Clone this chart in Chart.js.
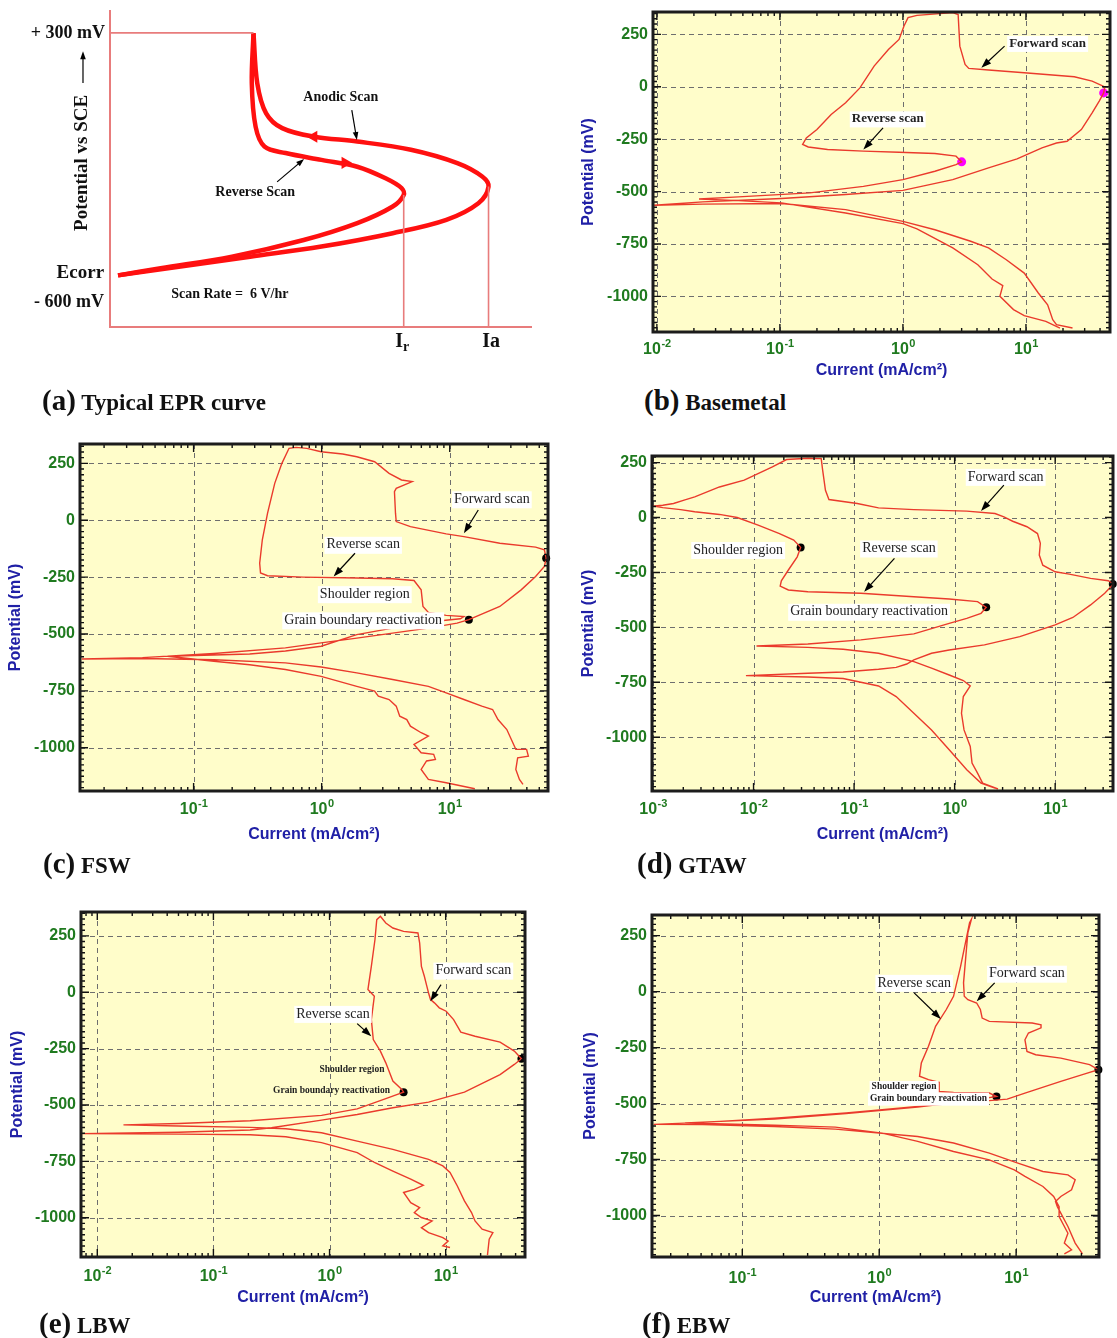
<!DOCTYPE html>
<html>
<head>
<meta charset="utf-8">
<title>EPR curves</title>
<script src="https://cdn.jsdelivr.net/npm/chart.js"></script>
<style>
  body { margin: 0; background: #fff; }
  #page { position: relative; width: 1117px; height: 1338px; overflow: hidden; background: #fff; }
  canvas { position: absolute; }
  .cap { position: absolute; font-family: 'Liberation Serif', 'Times New Roman', serif; font-weight: bold;
         font-size: 23px; line-height: 34px; color: #111; white-space: nowrap; }
  .cap span { font-size: 29px; }
</style>
</head>
<body>
<div id="page">
  <canvas id="chartA" width="560" height="420" style="left:0;top:0"></canvas>
  <canvas id="chartB" width="540" height="383" style="left:577px;top:0"></canvas>
  <canvas id="chartC" width="556" height="417" style="left:4px;top:430px"></canvas>
  <canvas id="chartD" width="540" height="407" style="left:577px;top:440px"></canvas>
  <canvas id="chartE" width="554" height="410" style="left:6px;top:900px"></canvas>
  <canvas id="chartF" width="538" height="410" style="left:579px;top:900px"></canvas>

  <div class="cap" style="left:42px;top:383px"><span>(a)</span> Typical EPR curve</div>
  <div class="cap" style="left:644px;top:383px"><span>(b)</span> Basemetal</div>
  <div class="cap" style="left:43px;top:846px"><span>(c)</span> FSW</div>
  <div class="cap" style="left:637px;top:846px"><span>(d)</span> GTAW</div>
  <div class="cap" style="left:39px;top:1306px"><span>(e)</span> LBW</div>
  <div class="cap" style="left:642px;top:1306px"><span>(f)</span> EBW</div>
</div>

<script>
'use strict'

// ---------------------------------------------------------------
// (a) typical EPR curve - schematic, current in arbitrary units (0-100), potential in mV
const anodicCurrent = [34.0, 34.9, 37.0, 40.8, 48.4, 58.6, 71.3, 82.3, 88.2, 89.7, 87.3, 79.7, 67.0, 50.1, 33.2, 16.3, 1.9];
const anodicPotential = [299, 130, 29, -21, -50, -66, -94, -139, -184, -218, -274, -330, -375, -420, -454, -488, -517];
const reverseCurrent = [34.0, 33.6, 34.5, 36.6, 41.6, 50.1, 58.6, 65.3, 69.1, 69.6, 67.0, 58.6, 45.9, 28.9, 12.0, 1.9];
const reversePotential = [299, 130, -16, -83, -105, -128, -151, -190, -223, -246, -285, -341, -398, -454, -493, -517];
const peakCurrent = [69.6, 89.7];      // Ir, Ia
const peakPotential = [-246, -218];
const markCurrent = [48.3, 55.7];      // direction marks on anodic / reverse scan
const markPotential = [-50, -138];
const limitPotential = 300;            // + 300 mV vertex

// ---------------------------------------------------------------
// (b)-(f) measured loops, current in mA/cm2, potential in mV
const potentialTicks = [-1000, -750, -500, -250, 0, 250];

// (b) base metal
const bmCurrent = [
  23.9, 17.7, 16.5, 15.0, 12.6, 9.68, 6.92, 4.96, 3.55, 1.82, 1.0, 0.342, 0.103, 0.0236, 0.0095,
  0.0236, 0.103, 0.342, 1.0, 2.54, 4.96, 8.47, 13.5, 17.7, 21.6, 28.2, 34.5, 39.4, 42.8, 43.7, 34.5, 24.7, 9.68, 4.96, 3.43, 3.2, 2.9, 2.81, 2.54,
  1.3, 1.10, 1.02, 0.93, 0.762, 0.583, 0.447, 0.342, 0.261, 0.2, 0.164, 0.153, 0.17, 0.244, 0.477, 0.93, 1.82, 2.7, 3.0, 2.7, 1.82, 1.0, 0.477, 0.175, 0.046, 0.022,
  0.046, 0.103, 0.342, 1.0, 1.3, 2.54, 4.06, 5.3, 6.48, 6.14, 7.92, 9.68, 14.5, 18.9];
const bmPotential = [
  -1151, -1135, -1111, -1040, -984, -889, -825, -769, -737, -682, -642, -586, -557, -560, -565,
  -549, -533, -514, -494, -443, -387, -344, -291, -268, -260, -204, -124, -68, -29, 0, 27, 48, 67, 80, 88, 107, 194, 345, 354,
  341, 330, 290, 226, 178, 99, -5, -76, -132, -204, -244, -275, -287, -299, -307, -312, -318, -331, -358, -371, -403, -443, -475, -506, -525, -535,
  -543, -554, -602, -653, -678, -769, -849, -917, -949, -1000, -1063, -1092, -1119, -1151];
const bmDotCurrent = [3.0, 42.8];
const bmDotPotential = [-358, -29];

// (c) FSW
const fswCurrent = [
  37.3, 35.0, 32.8, 33.9, 41.1, 39.8, 32.8, 27.9, 23.8, 21.6, 17.8, 12.9, 9.38, 6.81, 3.58, 1.88, 0.99, 0.521, 0.144, 0.0399, 0.0134,
  0.0399, 0.144, 0.521, 0.99, 1.88, 3.58, 6.81, 11.4, 14.1, 24.6, 36.1, 46.8, 54.8, 56.6, 54.8, 46.8, 24.6, 12.9, 9.38, 4.93, 3.82, 3.77, 3.70, 3.82, 5.09, 4.2, 3.36, 2.59, 1.88, 1.46, 0.99, 0.766, 0.632, 0.556,
  0.489, 0.430, 0.378, 0.344, 0.328, 0.333, 0.378, 0.718, 1.88, 3.58, 5.26, 5.98, 6.18, 6.81, 9.38, 12.9, 12.1, 6.81, 3.58, 1.88, 0.99, 0.521, 0.274, 0.0625,
  0.144, 0.274, 0.521, 0.99, 1.88, 2.59, 2.77, 3.36, 3.82, 4.07, 4.62, 4.93, 5.98, 6.81, 5.26, 5.98, 7.49, 7.73, 6.59, 5.98, 6.81, 9.38, 15.7];
const fswPotential = [
  -1161, -1139, -1095, -1044, -1037, -1007, -1007, -920, -876, -832, -817, -788, -759, -730, -700, -671, -645, -627, -613, -608, -610,
  -604, -586, -561, -539, -518, -496, -474, -452, -437, -379, -306, -247, -203, -167, -130, -118, -101, -72, -60, -28, -6, 31, 126, 140, 170, 177, 206, 257, 279, 291, 301, 316, 320, 316,
  250, 162, 31, -86, -189, -232, -244, -250, -254, -257, -265, -306, -379, -405, -418, -423, -433, -447, -474, -503, -554, -575, -588, -598,
  -620, -635, -656, -686, -730, -751, -773, -788, -817, -861, -876, -905, -934, -949, -985, -1022, -1029, -1051, -1058, -1095, -1139, -1154, -1180];
const fswDotCurrent = [14.1, 56.6];
const fswDotPotential = [-437, -167];

// (d) GTAW
const gtawCurrent = [
  2.52, 1.83, 1.32, 0.883, 0.589, 0.393, 0.262, 0.175, 0.0778, 0.0347, 0.0084,
  0.0347, 0.0778, 0.175, 0.262, 0.334, 0.393, 0.589, 0.883, 1.98, 4.45, 10.0, 15.0, 22.5, 31.1, 38.0, 33.7, 22.5, 13.8, 10.0, 7.53, 6.95, 7.12, 6.67, 5.24, 3.78, 3.09, 2.52, 1.32, 0.393, 0.175, 0.1076, 0.0562, 0.0519, 0.0487, 0.0471, 0.0347, 0.0213,
  0.0154, 0.00807, 0.00458, 0.0026, 0.00204, 0.0016, 0.00125, 0.00103, 0.00125, 0.00188, 0.0026, 0.00458, 0.00687, 0.0111, 0.0181, 0.0251, 0.0294, 0.0272, 0.0222, 0.0189, 0.0184, 0.0222, 0.0347, 0.1167, 0.393, 0.883, 1.69, 2.06, 1.83, 1.32, 0.883, 0.393, 0.1167, 0.0347, 0.0107,
  0.0347, 0.0778, 0.175, 0.393, 0.589, 0.883, 1.22, 1.43, 1.22, 1.17, 1.24, 1.43, 1.49, 1.69, 1.90, 2.70];
const gtawPotential = [
  -1232, -1209, -1148, -1057, -967, -891, -815, -767, -733, -726, -720,
  -709, -703, -691, -682, -667, -648, -618, -603, -580, -542, -489, -455, -398, -345, -303, -288, -277, -258, -247, -217, -171, -118, -73, -42, -17, 3, 18, 29, 36, 44, 64, 82, 124, 215, 268, 270, 264,
  230, 170, 139, 94, 79, 64, 56, 52, 45, 36, 26, 14, 0, -35, -73, -103, -136, -179, -239, -288, -312, -330, -338, -345, -361, -371, -383, -409, -436, -459, -482, -530, -557, -576, -585,
  -591, -600, -618, -656, -686, -717, -742, -767, -815, -891, -967, -1042, -1118, -1164, -1209, -1236];
const gtawDotCurrent = [0.0294, 2.06, 37.4];
const gtawDotPotential = [-136, -409, -303];

// (e) LBW
const lbwCurrent = [
  10.9, 9.45, 10.5, 9.45, 7.12, 6.18, 7.64, 6.18, 5.37, 5.97, 5.0, 4.34, 5.37, 6.41, 5.0, 3.51, 2.46, 1.73, 0.853, 0.42, 0.207, 0.0502, 0.00717,
  0.0502, 0.207, 0.316, 0.853, 1.73, 3.51, 7.12, 14.5, 29.4, 39.0, 44.9, 39.0, 29.4, 17.9, 13.5, 11.7, 10.1, 8.81, 8.0, 7.4, 7.12, 6.88, 6.55, 6.18, 5.97, 5.77, 4.34, 3.51, 3.05, 2.74,
  2.55, 2.46, 2.29, 2.14, 2.43, 2.29, 2.38, 2.74, 3.05, 3.51, 4.19, 4.34, 3.05, 1.73, 0.853, 0.207, 0.0502, 0.0168,
  0.0502, 0.207, 0.42, 0.853, 1.73, 3.51, 7.12, 9.45, 10.9, 12.6, 14.5, 16.7, 17.9, 20.6, 25.5, 23.7, 22.9];
const lbwPotential = [
  -1132, -1125, -1103, -1088, -1066, -1044, -1014, -999, -977, -955, -933, -888, -874, -856, -829, -793, -756, -711, -667, -641, -632, -629, -627,
  -621, -611, -601, -567, -542, -512, -487, -443, -365, -320, -295, -261, -221, -195, -177, -121, -84, -69, -47, -32, -3, 27, 71, 115, 218, 263, 270, 285, 307, 337,
  322, 233, 115, 12, -18, -121, -210, -261, -313, -394, -431, -443, -472, -517, -546, -570, -582, -588,
  -593, -599, -605, -623, -660, -697, -741, -770, -799, -859, -925, -977, -1014, -1051, -1066, -1095, -1166];
const lbwDotCurrent = [4.34, 44.9];
const lbwDotPotential = [-443, -295];

// (f) EBW
const ebwCurrent = [
  30.5, 27.0, 23.9, 20.0, 19.4, 21.2, 25.4, 27.0, 23.9, 15.7, 10.3, 6.37, 3.49, 1.91, 0.478, 0.172, 0.0516, 0.0225,
  0.0516, 0.172, 0.573, 1.05, 1.91, 3.49, 6.37, 8.6, 11.6, 21.2, 30.5, 39.9, 34.4, 21.2, 13.9, 12.0, 11.6, 12.3, 15.2, 15.2, 13.1, 6.37, 5.65, 5.48, 5.15, 4.44, 4.18, 4.13, 4.44, 4.71,
  4.57, 3.93, 3.49, 3.09, 2.58, 2.29, 2.03, 1.97, 2.29, 2.74, 2.74, 3.49, 6.37, 7.18, 4.71, 1.91, 0.573, 0.172, 0.0516, 0.0382,
  0.172, 0.478, 1.05, 1.91, 3.49, 6.37, 9.7, 11.6, 15.7, 18.8, 20.6, 20.6, 23.9, 22.5, 25.4, 22.5];
const ebwPotential = [
  -1171, -1123, -1049, -960, -937, -915, -885, -840, -818, -803, -766, -721, -676, -647, -614, -602, -594, -593,
  -584, -565, -542, -527, -513, -499, -487, -480, -453, -401, -371, -349, -326, -297, -282, -267, -215, -185, -162, -148, -140, -133, -118, -80, -51, -36, -21, 39, 262, 322,
  307, 113, -21, -80, -155, -244, -319, -378, -393, -405, -446, -450, -453, -468, -487, -516, -545, -569, -583, -587,
  -596, -605, -632, -669, -714, -751, -796, -825, -870, -915, -960, -1004, -1079, -1123, -1153, -1171];
const ebwDotCurrent = [7.18, 39.9];
const ebwDotPotential = [-468, -349];

// ---------------------------------------------------------------
const SANS = "'Liberation Sans', Arial, sans-serif";
const SERIF = "'Liberation Serif', 'Times New Roman', serif";
const PLOT_BG = '#fffdca';
const GRID_GREY = '#6e6e6e';
const TICK_GREEN = '#1f7a1f';
const TITLE_BLUE = '#2020a6';
const CURVE_RED = '#ea3a2c';
const SCHEME_RED = '#ff1010';
const AXIS_PINK = '#e87c7c';

const NOTE = '14px ' + SERIF;
const SMALL = 'bold 9.5px ' + SERIF;

// layout + labels of the five measured panels (data arrays above)
const panels = {
  chartB: { current: bmCurrent, potential: bmPotential, dotI: bmDotCurrent, dotE: bmDotPotential, dotColor: '#ff00ff', dotR: 4.5,
    xMin: 0.0093, xMax: 48.2, yMin: -1170, yMax: 357, padTop: 12, padRight: 7, yW: 76, xH: 51, tickGap: 22,
    notes: [
      { text: 'Forward scan', x: 15.0, y: 207, font: 'bold 13px ' + SERIF, h: 13 },
      { text: 'Reverse scan', x: 0.752, y: -153, font: 'bold 13px ' + SERIF, h: 13 }],
    arrows: [[6.7, 194, 4.34, 91], [0.689, -196, 0.477, -299]] },
  chartC: { current: fswCurrent, potential: fswPotential, dotI: fswDotCurrent, dotE: fswDotPotential, dotColor: '#000', dotR: 4,
    xMin: 0.01297, xMax: 58.5, yMin: -1190, yMax: 335, padTop: 14, padRight: 12, yW: 76, xH: 56, tickGap: 23,
    notes: [
      { text: 'Forward scan', x: 21.3, y: 92, font: NOTE, h: 14 },
      { text: 'Reverse scan', x: 2.11, y: -108, font: NOTE, h: 14 },
      { text: 'Shoulder region', x: 2.17, y: -325, font: NOTE, h: 14 },
      { text: 'Grain boundary reactivation', x: 2.11, y: -440, font: NOTE, h: 14 }],
    arrows: [[16.7, 45, 12.9, -57], [1.82, -145, 1.24, -247]] },
  chartD: { current: gtawCurrent, potential: gtawPotential, dotI: gtawDotCurrent, dotE: gtawDotPotential, dotColor: '#000', dotR: 4,
    xMin: 0.000977, xMax: 37.6, yMin: -1245, yMax: 280, padTop: 16, padRight: 0, yW: 75, xH: 56, tickGap: 23,
    notes: [
      { text: 'Forward scan', x: 3.22, y: 185, font: NOTE, h: 14 },
      { text: 'Shoulder region', x: 0.00703, y: -148, font: NOTE, h: 14 },
      { text: 'Reverse scan', x: 0.279, y: -141, font: NOTE, h: 14 },
      { text: 'Grain boundary reactivation', x: 0.141, y: -429, font: NOTE, h: 14 }],
    arrows: [[3.09, 147, 1.83, 30], [0.252, -186, 0.126, -338]] },
  chartE: { current: lbwCurrent, potential: lbwPotential, dotI: lbwDotCurrent, dotE: lbwDotPotential, dotColor: '#000', dotR: 4,
    xMin: 0.00724, xMax: 48.2, yMin: -1174, yMax: 356, padTop: 12, padRight: 35, yW: 75, xH: 53, tickGap: 24,
    notes: [
      { text: 'Forward scan', x: 17.3, y: 96, font: NOTE, h: 14 },
      { text: 'Reverse scan', x: 1.07, y: -96, font: NOTE, h: 14 },
      { text: 'Shoulder region', x: 1.56, y: -342, font: SMALL, h: 0 },
      { text: 'Grain boundary reactivation', x: 1.04, y: -438, font: SMALL, h: 0 }],
    arrows: [[9.12, 34, 7.38, -40], [1.73, -139, 2.29, -195]] },
  chartF: { current: ebwCurrent, potential: ebwPotential, dotI: ebwDotCurrent, dotE: ebwDotPotential, dotColor: '#000', dotR: 4,
    xMin: 0.0219, xMax: 40.3, yMin: -1185, yMax: 342, padTop: 15, padRight: 18, yW: 73, xH: 53, tickGap: 26,
    notes: [
      { text: 'Forward scan', x: 12.0, y: 80, font: NOTE, h: 14 },
      { text: 'Reverse scan', x: 1.8, y: 39, font: NOTE, h: 14 },
      { text: 'Shoulder region', x: 1.52, y: -426, font: SMALL, h: 10 },
      { text: 'Grain boundary reactivation', x: 2.29, y: -478, font: SMALL, h: 10 }],
    arrows: [[6.97, 39, 5.15, -43], [1.8, -6, 2.82, -122]] }
};

// decades that fall inside a log axis
function decadesIn(scale) {
  let out = [];
  for (let k = Math.ceil(Math.log10(scale.min)); k <= Math.floor(Math.log10(scale.max)); k++) out.push(Math.pow(10, k));
  return out;
}

function drawArrow(ctx, x1, y1, x2, y2, head) {
  let ang = Math.atan2(y2 - y1, x2 - x1);
  let c = Math.cos(ang), s = Math.sin(ang);
  ctx.save();
  ctx.strokeStyle = '#000';
  ctx.fillStyle = '#000';
  ctx.lineWidth = 1.2;
  ctx.beginPath();
  ctx.moveTo(x1, y1);
  ctx.lineTo(x2 - c * head * 0.7, y2 - s * head * 0.7);
  ctx.stroke();
  ctx.beginPath();
  ctx.moveTo(x2, y2);
  ctx.lineTo(x2 - head * c + head * 0.35 * s, y2 - head * s - head * 0.35 * c);
  ctx.lineTo(x2 - head * c - head * 0.35 * s, y2 - head * s + head * 0.35 * c);
  ctx.closePath();
  ctx.fill();
  ctx.restore();
}

// background, dashed grid, inner ticks, frame, decade labels and notes
const eprPlugin = {
  id: 'eprFrame',
  beforeDraw(chart) {
    let {ctx, chartArea: a} = chart;
    ctx.save();
    ctx.fillStyle = PLOT_BG;
    ctx.fillRect(a.left, a.top, a.right - a.left, a.bottom - a.top);
    ctx.restore();
  },
  beforeDatasetsDraw(chart) {
    let {ctx, chartArea: a, scales: {x, y}} = chart;
    ctx.save();
    ctx.strokeStyle = GRID_GREY;
    ctx.lineWidth = 1;
    ctx.setLineDash([5, 4]);
    ctx.beginPath();
    decadesIn(x).forEach(v => {
      let px = Math.round(x.getPixelForValue(v)) + 0.5;
      ctx.moveTo(px, a.top); ctx.lineTo(px, a.bottom);
    });
    potentialTicks.forEach(v => {
      let py = Math.round(y.getPixelForValue(v)) + 0.5;
      ctx.moveTo(a.left, py); ctx.lineTo(a.right, py);
    });
    ctx.stroke();
    ctx.restore();
  },
  afterDraw(chart) {
    let spec = panels[chart.canvas.id];
    let {ctx, chartArea: a, scales: {x, y}} = chart;
    ctx.save();
    // tick marks on all four sides
    ctx.strokeStyle = '#111';
    ctx.lineWidth = 1.4;
    ctx.beginPath();
    for (let k = Math.floor(Math.log10(x.min)); k <= Math.ceil(Math.log10(x.max)); k++) {
      for (let m = 1; m < 10; m++) {
        let v = m * Math.pow(10, k);
        if (v < x.min || v > x.max) continue;
        let px = x.getPixelForValue(v), len = m === 1 ? 8 : 4;
        ctx.moveTo(px, a.bottom); ctx.lineTo(px, a.bottom - len);
        ctx.moveTo(px, a.top); ctx.lineTo(px, a.top + len);
      }
    }
    for (let v = Math.ceil(y.min / 25) * 25; v <= y.max; v += 25) {
      let py = y.getPixelForValue(v), len = v % 250 === 0 ? 8 : 4;
      ctx.moveTo(a.left, py); ctx.lineTo(a.left + len, py);
      ctx.moveTo(a.right, py); ctx.lineTo(a.right - len, py);
    }
    ctx.stroke();
    ctx.lineWidth = 3;
    ctx.strokeStyle = '#1c1c1c';
    ctx.strokeRect(a.left, a.top, a.right - a.left, a.bottom - a.top);

    // decade labels 10^k
    ctx.fillStyle = TICK_GREEN;
    ctx.textAlign = 'left';
    ctx.textBaseline = 'alphabetic';
    decadesIn(x).forEach(v => {
      let exp = String(Math.round(Math.log10(v)));
      ctx.font = 'bold 16px ' + SANS;
      let wb = ctx.measureText('10').width;
      ctx.font = 'bold 11px ' + SANS;
      let we = ctx.measureText(exp).width;
      let x0 = x.getPixelForValue(v) - (wb + we) / 2;
      let yb = a.bottom + spec.tickGap;
      ctx.font = 'bold 16px ' + SANS;
      ctx.fillText('10', x0, yb);
      ctx.font = 'bold 11px ' + SANS;
      ctx.fillText(exp, x0 + wb + 0.5, yb - 7);
    });

    // text notes and pointer arrows
    ctx.textAlign = 'center';
    ctx.textBaseline = 'middle';
    spec.notes.forEach(n => {
      let px = x.getPixelForValue(n.x), py = y.getPixelForValue(n.y);
      ctx.font = n.font;
      let w = ctx.measureText(n.text).width;
      if (n.h) {
        ctx.fillStyle = '#fff';
        ctx.fillRect(px - w / 2 - 2, py - n.h / 2 - 1, w + 4, n.h + 3);
      }
      ctx.fillStyle = '#222';
      ctx.fillText(n.text, px, py);
    });
    ctx.restore();
    spec.arrows.forEach(r => drawArrow(ctx, x.getPixelForValue(r[0]), y.getPixelForValue(r[1]),
      x.getPixelForValue(r[2]), y.getPixelForValue(r[3]), 10));
  }
};

function makePanel(id) {
  let p = panels[id];
  let loop = p.current.map((v, i) => ({x: v, y: p.potential[i]}));
  let dots = p.dotI.map((v, i) => ({x: v, y: p.dotE[i]}));
  let axisFont = {family: SANS, size: 16, weight: 'bold'};
  return new Chart(document.getElementById(id), {
    type: 'scatter',
    data: {
      datasets: [
        { data: loop, showLine: true, borderColor: CURVE_RED, borderWidth: 1.4, pointRadius: 0, tension: 0 },
        { data: dots, pointRadius: p.dotR, pointBackgroundColor: p.dotColor, pointBorderWidth: 0, clip: false }
      ]
    },
    options: {
      responsive: false,
      animation: false,
      events: [],
      layout: { padding: { top: p.padTop, right: p.padRight, left: 0, bottom: 0 } },
      plugins: { legend: { display: false }, tooltip: { enabled: false } },
      scales: {
        x: {
          type: 'logarithmic', min: p.xMin, max: p.xMax,
          grid: { display: false, drawTicks: false }, border: { display: false },
          ticks: { display: false },
          title: { display: true, text: 'Current (mA/cm²)', color: TITLE_BLUE, font: axisFont, padding: { top: 0, bottom: 2.4 } },
          afterFit(s) { s.height = p.xH; s.paddingLeft = 0; s.paddingRight = 0; }
        },
        y: {
          type: 'linear', min: p.yMin, max: p.yMax,
          grid: { display: false, drawTicks: false }, border: { display: false },
          afterBuildTicks(s) { s.ticks = potentialTicks.map(v => ({value: v})); },
          ticks: { color: TICK_GREEN, font: axisFont, padding: 5, callback: v => String(v) },
          title: { display: true, text: 'Potential (mV)', color: TITLE_BLUE, font: axisFont, padding: { top: 2.4, bottom: 0 } },
          afterFit(s) { s.width = p.yW; s.paddingTop = 0; s.paddingBottom = 0; }
        }
      }
    },
    plugins: [eprPlugin]
  });
}

// ---------------------------------------------------------------
// (a) schematic: axes, labels and pointers
const schemeNotes = [
  { text: '+ 300 mV', x: -1.2, y: 300, align: 'right', font: 'bold 18px ' + SERIF },
  { text: 'Ecorr', x: -1.4, y: -509, align: 'right', font: 'bold 19px ' + SERIF },
  { text: '- 600 mV', x: -1.4, y: -607, align: 'right', font: 'bold 18px ' + SERIF },
  { text: 'Scan Rate =  6 V/hr', x: 14.5, y: -580, align: 'left', font: 'bold 14px ' + SERIF },
  { text: 'Anodic Scan', x: 54.7, y: 84, align: 'center', font: 'bold 14px ' + SERIF },
  { text: 'Reverse Scan', x: 34.4, y: -239, align: 'center', font: 'bold 14px ' + SERIF },
  { text: 'Ia', x: 90.3, y: -741, align: 'center', font: 'bold 20px ' + SERIF }
];

const schemePlugin = {
  id: 'scheme',
  beforeDatasetsDraw(chart) {
    let {ctx, chartArea: a} = chart;
    ctx.save();
    ctx.strokeStyle = AXIS_PINK;
    ctx.lineWidth = 2;
    ctx.beginPath();
    ctx.moveTo(a.left, a.top); ctx.lineTo(a.left, a.bottom); ctx.lineTo(a.right, a.bottom);
    ctx.stroke();
    ctx.restore();
  },
  afterDraw(chart) {
    let {ctx, scales: {x, y}} = chart;
    ctx.save();
    ctx.fillStyle = '#111';
    ctx.textBaseline = 'middle';
    schemeNotes.forEach(n => {
      ctx.font = n.font;
      ctx.textAlign = n.align;
      ctx.fillText(n.text, x.getPixelForValue(n.x), y.getPixelForValue(n.y));
    });
    // I with subscript r
    let irX = x.getPixelForValue(69.2), irY = y.getPixelForValue(-741);
    ctx.font = 'bold 20px ' + SERIF;
    ctx.textAlign = 'right';
    ctx.fillText('I', irX + 1, irY);
    ctx.font = 'bold 14px ' + SERIF;
    ctx.textAlign = 'left';
    ctx.fillText('r', irX + 1, irY + 6);
    // rotated axis caption
    ctx.save();
    ctx.translate(x.getPixelForValue(-6.6), y.getPixelForValue(-138));
    ctx.rotate(-Math.PI / 2);
    ctx.font = 'bold 19px ' + SERIF;
    ctx.textAlign = 'center';
    ctx.fillText('Potential vs SCE', 0, 0);
    ctx.restore();
    ctx.restore();
    drawArrow(ctx, x.getPixelForValue(-6.4), y.getPixelForValue(131), x.getPixelForValue(-6.4), y.getPixelForValue(238), 8);
    drawArrow(ctx, x.getPixelForValue(57.3), y.getPixelForValue(40), x.getPixelForValue(58.5), y.getPixelForValue(-61), 8);
    drawArrow(ctx, x.getPixelForValue(39.6), y.getPixelForValue(-202), x.getPixelForValue(46.0), y.getPixelForValue(-125), 8);
  }
};

function makeScheme() {
  let yBottom = -691;
  let toPts = (xs, ys) => xs.map((v, i) => ({x: v, y: ys[i]}));
  let thin = { showLine: true, borderColor: AXIS_PINK, borderWidth: 1.6, pointRadius: 0 };
  return new Chart(document.getElementById('chartA'), {
    type: 'scatter',
    data: {
      datasets: [
        Object.assign({ data: [{x: 0, y: limitPotential}, {x: reverseCurrent[0], y: limitPotential}] }, thin),
        Object.assign({ data: [{x: peakCurrent[0], y: peakPotential[0]}, {x: peakCurrent[0], y: yBottom}] }, thin),
        Object.assign({ data: [{x: peakCurrent[1], y: peakPotential[1]}, {x: peakCurrent[1], y: yBottom}] }, thin),
        { data: toPts(anodicCurrent, anodicPotential), showLine: true, borderColor: SCHEME_RED, borderWidth: 4.5, pointRadius: 0, tension: 0.35 },
        { data: toPts(reverseCurrent, reversePotential), showLine: true, borderColor: SCHEME_RED, borderWidth: 4.5, pointRadius: 0, tension: 0.35 },
        { data: toPts(markCurrent, markPotential), pointStyle: 'triangle', pointRotation: [-90, 90], pointRadius: 7,
          pointBackgroundColor: SCHEME_RED, pointBorderWidth: 0, clip: false }
      ]
    },
    options: {
      responsive: false,
      animation: false,
      events: [],
      layout: { padding: { left: 110, top: 10, right: 28, bottom: 93 } },
      plugins: { legend: { display: false }, tooltip: { enabled: false } },
      scales: {
        x: { type: 'linear', display: false, min: 0, max: 100 },
        y: { type: 'linear', display: false, min: yBottom, max: 377 }
      }
    },
    plugins: [schemePlugin]
  });
}

makeScheme();
['chartB', 'chartC', 'chartD', 'chartE', 'chartF'].forEach(makePanel);
</script>
</body>
</html>
